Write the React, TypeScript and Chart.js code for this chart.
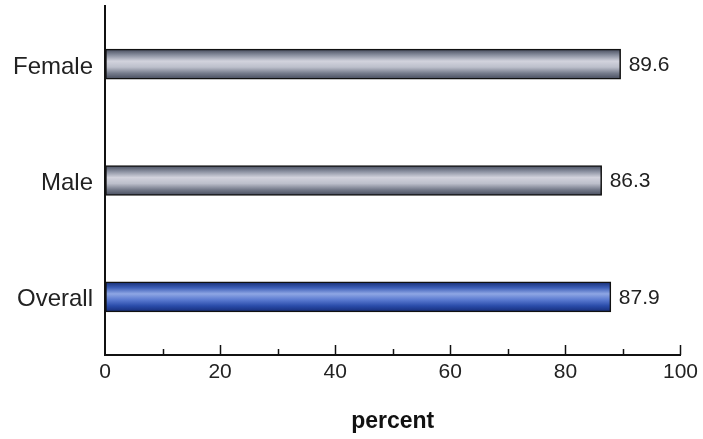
import React, { useEffect, useRef } from "react";
import { Chart, registerables } from "chart.js";

Chart.register(...registerables);

const categories = ["Female", "Male", "Overall"];
const values = [89.6, 86.3, 87.9];
const valueLabels = ["89.6", "86.3", "87.9"];
const xTickValues = [0, 20, 40, 60, 80, 100];
const xMinorTickValues = [10, 30, 50, 70, 90];
const axisTitle = "percent";

const grayStops = ["#454b5c", "#8a90a0", "#d2d3dd", "#bcbfcb", "#767c8c", "#454b5c"];
const blueStops = ["#142c72", "#3d5fb8", "#8ea6e4", "#5a7ad0", "#2a4caa", "#142c78"];

const FONT = "'Liberation Sans', Arial, sans-serif";

export default function App() {
  const canvasRef = useRef<HTMLCanvasElement | null>(null);

  useEffect(() => {
    document.body.style.margin = "0";
    const canvas = canvasRef.current;
    if (!canvas) return;

    const tickPlugin = {
      id: "innerTicks",
      afterDraw(chart: any) {
        const ctx = chart.ctx;
        const xs = chart.scales.x;
        const ys = chart.scales.y;
        const axisY = ys.bottom;
        ctx.save();
        ctx.strokeStyle = "#111";
        ctx.lineWidth = 1.5;
        xTickValues.forEach((v) => {
          if (v === 0) return;
          const px = Math.round(xs.getPixelForValue(v)) + 0.5;
          ctx.beginPath();
          ctx.moveTo(px, axisY);
          ctx.lineTo(px, axisY - 10);
          ctx.stroke();
        });
        xMinorTickValues.forEach((v) => {
          const px = Math.round(xs.getPixelForValue(v)) + 0.5;
          ctx.beginPath();
          ctx.moveTo(px, axisY);
          ctx.lineTo(px, axisY - 6);
          ctx.stroke();
        });
        ctx.fillStyle = "#222";
        ctx.font = `21px ${FONT}`;
        ctx.textAlign = "left";
        ctx.textBaseline = "middle";
        const meta = chart.getDatasetMeta(0);
        meta.data.forEach((el: any, i: number) => {
          ctx.fillText(valueLabels[i], el.x + 8, el.y + 1);
        });
        ctx.restore();
      },
    };

    const makeGradient = (c: any) => {
      const chart = c.chart;
      const ys = chart.scales && chart.scales.y;
      const stops = c.dataIndex === 2 ? blueStops : grayStops;
      if (!ys || c.dataIndex === undefined) return stops[2];
      const cy = ys.getPixelForValue(c.dataIndex);
      if (!isFinite(cy)) return stops[2];
      const g = chart.ctx.createLinearGradient(0, cy - 15, 0, cy + 15);
      stops.forEach((s, i) => g.addColorStop(i / (stops.length - 1), s));
      return g;
    };

    const chart = new Chart(canvas, {
      type: "bar",
      data: {
        labels: categories,
        datasets: [
          {
            data: values,
            backgroundColor: makeGradient as any,
            borderColor: "#111",
            borderWidth: 1.5,
            borderSkipped: false,
            barThickness: 30,
          },
        ],
      },
      plugins: [tickPlugin],
      options: {
        indexAxis: "y",
        animation: false,
        responsive: true,
        maintainAspectRatio: false,
        layout: { padding: { top: 6, right: 22, left: 0, bottom: 0 } },
        plugins: {
          legend: { display: false },
          tooltip: { enabled: false },
        },
        scales: {
          y: {
            grid: { display: true, drawOnChartArea: false, drawTicks: false },
            border: { display: true, color: "#111", width: 2 },
            ticks: {
              color: "#222",
              font: { family: FONT, size: 24 },
              padding: 12,
              labelOffset: 3,
            },
            afterFit(scale: any) {
              scale.width = 105;
              scale.paddingTop = 0;
              scale.paddingBottom = 0;
            },
          },
          x: {
            min: 0,
            max: 100,
            grid: { display: true, drawOnChartArea: false, drawTicks: false },
            border: { display: true, color: "#111", width: 2 },
            ticks: {
              stepSize: 20,
              color: "#222",
              font: { family: FONT, size: 21 },
              padding: 5,
            },
            title: {
              display: true,
              text: axisTitle,
              color: "#111",
              font: { family: FONT, size: 23, weight: "bold" },
              padding: { top: 20, bottom: 4 },
            },
            afterFit(scale: any) {
              scale.height = 84;
            },
          },
        },
      },
    });
    chart.update();

    return () => chart.destroy();
  }, []);

  return (
    <div style={{ position: "absolute", left: 0, top: 0, width: 703, height: 439, background: "#fff" }}>
      <canvas ref={canvasRef} />
    </div>
  );
}
